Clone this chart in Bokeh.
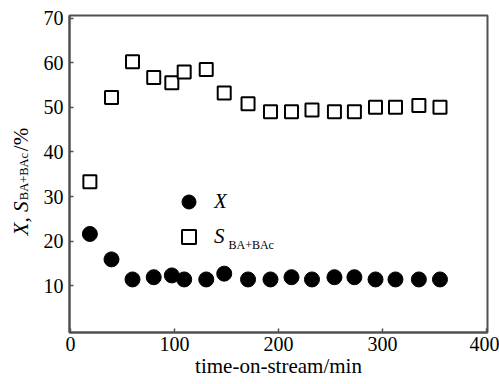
import math
from bokeh.plotting import figure
from bokeh.layouts import row
from bokeh.models import Range1d, FixedTicker, Legend, LegendItem, Label
from bokeh.core.properties import value
from bokeh.embed import file_html
from bokeh.resources import INLINE

# ---- data ----
time_min = [18.6, 39.4, 59.6, 80.0, 97.4, 109.3, 130.5, 147.8, 170.7, 192.3,
            212.5, 232.2, 253.8, 273.0, 293.3, 312.5, 335.0, 355.3]
conv_X = [21.6, 15.9, 11.4, 11.9, 12.3, 11.4, 11.4, 12.7, 11.4, 11.4,
          11.9, 11.4, 11.9, 11.9, 11.4, 11.4, 11.4, 11.4]
sel_S = [33.3, 52.2, 60.2, 56.7, 55.5, 57.9, 58.5, 53.2, 50.8, 49.0,
         49.0, 49.4, 49.0, 49.0, 50.0, 50.0, 50.4, 50.0]
x_ticks = [0, 100, 200, 300, 400]
y_ticks = [10, 20, 30, 40, 50, 60, 70]

FONT = "Liberation Serif"
AX = "#505050"
W, H = 499, 384
LW = 40  # width of the strip holding the y-axis title

X0, X1 = -1, 401
Y0, Y1 = -0.5, 70.6
FL, FR, FT, FB = 69, 487, 15, 332

def dx(px):
    return X0 + (px - FL) * (X1 - X0) / (FR - FL)

def dy(py):
    return Y0 + (FB - py) * (Y1 - Y0) / (FB - FT)

# ---- strip with the rotated y-axis title (its frame is aligned with the main one) ----
t = figure(width=LW, height=H, output_backend="svg", toolbar_location=None,
           title=None, x_range=Range1d(0, LW), y_range=Range1d(H - FB, H - FT),
           min_border=0, min_border_left=0, min_border_right=0,
           min_border_top=FT, min_border_bottom=H - FB,
           x_axis_location=None, y_axis_location=None)
t.outline_line_color = None
t.xgrid.visible = False
t.ygrid.visible = False
t.background_fill_color = "white"
t.border_fill_color = "white"
ang = math.pi / 2
t.text(x=[20], y=[H - 218], text=["X, S"], angle=ang, text_font=value(FONT),
       text_font_style="italic", text_font_size="21px", text_color="black",
       text_align="center", text_baseline="middle")
t.text(x=[23], y=[H - 176], text=["BA+BAc"], angle=ang, text_font=value(FONT),
       text_font_size="12.5px", text_color="black",
       text_align="center", text_baseline="middle")
t.text(x=[20], y=[H - 139], text=["/%"], angle=ang, text_font=value(FONT),
       text_font_size="21px", text_color="black",
       text_align="center", text_baseline="middle")

# ---- main chart ----
p = figure(width=W - LW, height=H, output_backend="svg", toolbar_location=None,
           x_range=Range1d(X0, X1), y_range=Range1d(Y0, Y1),
           min_border_left=FL - LW, min_border_right=W - FR,
           min_border_top=FT, min_border_bottom=H - FB)
p.background_fill_color = "white"
p.border_fill_color = "white"
p.outline_line_color = AX
p.outline_line_width = 2
p.xgrid.visible = False
p.ygrid.visible = False

xa = p.xaxis[0]
xa.ticker = FixedTicker(ticks=x_ticks)
xa.axis_label = "time-on-stream/min"
xa.axis_label_text_font = FONT
xa.axis_label_text_font_style = "normal"
xa.axis_label_text_font_size = "21px"
xa.axis_label_text_color = "black"
xa.axis_label_standoff = 0
xa.major_label_text_font = FONT
xa.major_label_text_font_style = "normal"
xa.major_label_text_font_size = "20px"
xa.major_label_text_color = "black"
xa.major_label_standoff = 4
xa.major_tick_in = 4
xa.major_tick_out = 0
xa.minor_tick_in = 0
xa.minor_tick_out = 0
xa.major_tick_line_color = AX
xa.major_tick_line_width = 1.5
xa.axis_line_color = AX
xa.axis_line_width = 2

ya = p.yaxis[0]
ya.ticker = FixedTicker(ticks=y_ticks)
ya.major_label_text_font = FONT
ya.major_label_text_font_style = "normal"
ya.major_label_text_font_size = "20px"
ya.major_label_text_color = "black"
ya.major_label_standoff = 6
ya.major_tick_in = 4
ya.major_tick_out = 0
ya.minor_tick_in = 0
ya.minor_tick_out = 0
ya.major_tick_line_color = AX
ya.major_tick_line_width = 1.5
ya.axis_line_color = AX
ya.axis_line_width = 2

r_x = p.scatter(time_min, conv_X, marker="circle", size=15,
                fill_color="black", line_color="black")
r_s = p.scatter(time_min, sel_S, marker="square", size=13,
                fill_color="white", line_color="black", line_width=2)

leg = Legend(items=[LegendItem(label="X", renderers=[r_x]),
                    LegendItem(label="S", renderers=[r_s])],
             location=(102, 78), padding=0, margin=0, spacing=0,
             glyph_width=35, glyph_height=35, label_height=35,
             label_standoff=8, border_line_alpha=0, background_fill_alpha=0,
             label_text_font=FONT, label_text_font_style="italic",
             label_text_font_size="21px", label_text_color="black")
p.add_layout(leg)

# subscript of the legend entry
p.add_layout(Label(x=dx(228), y=dy(244), text="BA+BAc", text_font=FONT,
                   text_font_size="12px", text_color="black",
                   text_align="left", text_baseline="alphabetic"))

layout = row(t, p, spacing=0)
open("out.html", "w").write(file_html(layout, INLINE))
